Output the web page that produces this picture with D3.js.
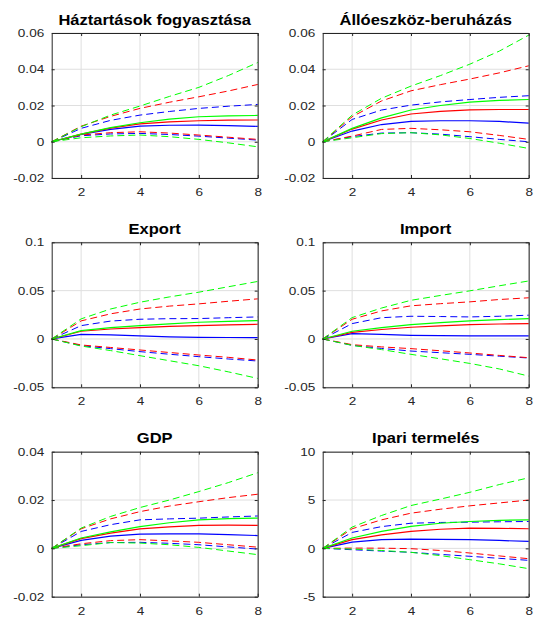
<!DOCTYPE html>
<html>
<head>
<meta charset="utf-8">
<script src="https://cdn.jsdelivr.net/npm/d3@7"></script>
<style>
  body { margin: 0; background: #fff; }
  svg { display: block; }
</style>
</head>
<body>
<div id="chart"></div>
<script>
// horizon of the impulse responses
var steps = [1, 2, 3, 4, 5, 6, 7, 8];

var titles = ["Háztartások fogyasztása", "Állóeszköz-beruházás", "Export", "Import", "GDP", "Ipari termelés"];

// y ticks per panel
var yTicks1 = [-0.02, 0, 0.02, 0.04, 0.06];
var yTicks2 = [-0.05, 0, 0.05, 0.1];
var yTicks3 = [-0.02, 0, 0.02, 0.04];
var yTicks4 = [-5, 0, 5, 10];
var xTicks = [2, 4, 6, 8];

// each colour: [lower band, median, upper band]
var haztBlue = [
  [0, .0033, .0043, .0046, .0040, .0031, .0020, .0009],
  [0, .0040, .0068, .0086, .0091, .0092, .0089, .0085],
  [0, .0074, .0118, .0147, .0167, .0184, .0196, .0206]];
var haztRed = [
  [0, .0037, .0050, .0055, .0048, .0037, .0025, .0013],
  [0, .0042, .0075, .0099, .0110, .0116, .0119, .0120],
  [0, .0086, .0140, .0184, .0218, .0248, .0280, .0316]];
var haztGreen = [
  [0, .0022, .0032, .0037, .0028, .0013, -.0006, -.0028],
  [0, .0042, .0078, .0105, .0125, .0138, .0143, .0145],
  [0, .0083, .0147, .0197, .0250, .0300, .0365, .0437]];

var alloBlue = [
  [0, .0028, .0048, .0050, .0042, .0028, .0013, .0000],
  [0, .0059, .0095, .0112, .0116, .0116, .0112, .0103],
  [0, .0123, .0175, .0202, .0220, .0233, .0245, .0254]];
var alloRed = [
  [0, .0031, .0068, .0074, .0066, .0055, .0035, .0013],
  [0, .0070, .0120, .0153, .0168, .0176, .0178, .0178],
  [0, .0138, .0225, .0281, .0315, .0346, .0380, .0419]];
var alloGreen = [
  [0, .0022, .0045, .0050, .0038, .0018, -.0008, -.0037],
  [0, .0074, .0132, .0175, .0200, .0219, .0228, .0233],
  [0, .0147, .0240, .0307, .0365, .0428, .0500, .0588]];

var exportBlue = [
  [0, -.0069, -.0100, -.0131, -.0158, -.0183, -.0207, -.0228],
  [0, .0048, .0042, .0031, .0022, .0017, .0015, .0014],
  [0, .0138, .0185, .0204, .0210, .0211, .0220, .0228]];
var exportRed = [
  [0, -.0062, -.0088, -.0114, -.0140, -.0166, -.0190, -.0218],
  [0, .0080, .0103, .0118, .0130, .0138, .0146, .0152],
  [0, .0187, .0260, .0310, .0340, .0363, .0390, .0415]];
var exportGreen = [
  [0, -.0073, -.0120, -.0173, -.0225, -.0277, -.0340, -.0408],
  [0, .0087, .0117, .0138, .0157, .0173, .0183, .0190],
  [0, .0208, .0310, .0380, .0435, .0484, .0540, .0595]];

var importBlue = [
  [0, -.0066, -.0098, -.0125, -.0142, -.0159, -.0178, -.0197],
  [0, .0055, .0048, .0038, .0034, .0031, .0031, .0031],
  [0, .0159, .0220, .0235, .0232, .0228, .0235, .0246]];
var importRed = [
  [0, -.0059, -.0082, -.0100, -.0122, -.0145, -.0170, -.0194],
  [0, .0069, .0098, .0121, .0136, .0149, .0155, .0159],
  [0, .0204, .0290, .0343, .0365, .0384, .0408, .0426]];
var importGreen = [
  [0, -.0066, -.0110, -.0159, -.0205, -.0253, -.0310, -.0384],
  [0, .0080, .0118, .0149, .0170, .0187, .0200, .0211],
  [0, .0221, .0320, .0400, .0450, .0498, .0550, .0600]];

var gdpBlue = [
  [0, .0015, .0024, .0025, .0021, .0015, .0006, -.0003],
  [0, .0033, .0051, .0059, .0060, .0060, .0057, .0053],
  [0, .0070, .0098, .0118, .0122, .0125, .0130, .0134]];
var gdpRed = [
  [0, .0019, .0032, .0036, .0031, .0025, .0015, .0005],
  [0, .0040, .0063, .0081, .0089, .0095, .0096, .0095],
  [0, .0081, .0122, .0152, .0175, .0193, .0210, .0224]];
var gdpGreen = [
  [0, .0011, .0024, .0022, .0015, .0004, -.0011, -.0026],
  [0, .0043, .0068, .0090, .0106, .0118, .0123, .0125],
  [0, .0084, .0132, .0169, .0200, .0235, .0272, .0313]];

var ipariBlue = [
  [0, -0.14, -0.28, -0.41, -0.62, -0.82, -1.03, -1.24],
  [0, 0.65, 0.90, 0.96, 0.93, 0.90, 0.82, 0.72],
  [0, 1.65, 2.25, 2.60, 2.68, 2.71, 2.75, 2.78]];
var ipariRed = [
  [0, 0.03, 0.02, -0.03, -0.22, -0.48, -0.78, -1.07],
  [0, 0.90, 1.40, 1.75, 1.98, 2.10, 2.07, 2.03],
  [0, 2.03, 2.95, 3.64, 4.05, 4.40, 4.70, 5.00]];
var ipariGreen = [
  [0, -0.07, -0.22, -0.41, -0.75, -1.17, -1.60, -2.10],
  [0, 1.07, 1.75, 2.27, 2.60, 2.78, 2.90, 2.95],
  [0, 2.20, 3.40, 4.43, 5.10, 5.80, 6.60, 7.30]];

var colors = ["#0000ff", "#ff0000", "#00ff00"];

var panels = [
  { title: titles[0], ticks: yTicks1, series: [haztBlue, haztRed, haztGreen] },
  { title: titles[1], ticks: yTicks1, series: [alloBlue, alloRed, alloGreen] },
  { title: titles[2], ticks: yTicks2, series: [exportBlue, exportRed, exportGreen] },
  { title: titles[3], ticks: yTicks2, series: [importBlue, importRed, importGreen] },
  { title: titles[4], ticks: yTicks3, series: [gdpBlue, gdpRed, gdpGreen] },
  { title: titles[5], ticks: yTicks4, series: [ipariBlue, ipariRed, ipariGreen] }
];

var W = 534, H = 623;
var colLeft = [51.7, 322.7], plotW = 206;
var rowTop = [33, 242.3, 451.7], plotH = 145;
var stretch = 1.18; // the picture's text is wider than plain Arial
var axisColor = "#262626";

var svg = d3.select("#chart").append("svg")
  .attr("width", W)
  .attr("height", H);

function fmt(d) {
  return String(+d.toFixed(4));
}

panels.forEach(function (p, i) {
  var left = colLeft[i % 2], top = rowTop[Math.floor(i / 2)];
  var g = svg.append("g").attr("transform", "translate(" + left + "," + top + ")");

  var x = d3.scaleLinear().domain([1, 8]).range([0, plotW]);
  var y = d3.scaleLinear().domain([p.ticks[0], p.ticks[p.ticks.length - 1]]).range([plotH, 0]);

  // grid
  g.append("g").selectAll("line.gx")
    .data(xTicks).enter().append("line")
    .attr("x1", d => x(d)).attr("x2", d => x(d))
    .attr("y1", 0).attr("y2", plotH)
    .attr("stroke", "#dfdfdf").attr("stroke-width", 1);
  g.append("g").selectAll("line.gy")
    .data(p.ticks).enter().append("line")
    .attr("x1", 0).attr("x2", plotW)
    .attr("y1", d => y(d)).attr("y2", d => y(d))
    .attr("stroke", "#dfdfdf").attr("stroke-width", 1);

  // lines: blue, red, green; dashed bands and solid median
  var line = d3.line()
    .x((d, j) => x(steps[j]))
    .y(d => y(d));

  p.series.forEach(function (s, c) {
    s.forEach(function (vals, k) {
      g.append("path")
        .datum(vals)
        .attr("d", line)
        .attr("fill", "none")
        .attr("stroke", colors[c])
        .attr("stroke-width", k == 1 ? 1.2 : 1)
        .attr("stroke-dasharray", k == 1 ? null : "7,4");
    });
  });

  // axes with inward ticks on all sides
  var xb = g.append("g").attr("transform", "translate(0," + plotH + ")")
    .call(d3.axisBottom(x).tickValues(xTicks).tickSizeInner(-3).tickSizeOuter(0).tickPadding(10).tickFormat(fmt));
  var yl = g.append("g")
    .call(d3.axisLeft(y).tickValues(p.ticks).tickSizeInner(-3).tickSizeOuter(0).tickPadding(7.5).tickFormat(fmt));
  g.append("g")
    .call(d3.axisTop(x).tickValues(xTicks).tickSizeInner(-3).tickSizeOuter(0).tickFormat(""));
  g.append("g").attr("transform", "translate(" + plotW + ",0)")
    .call(d3.axisRight(y).tickValues(p.ticks).tickSizeInner(-3).tickSizeOuter(0).tickFormat(""));

  g.selectAll(".domain").attr("stroke", axisColor);
  g.selectAll(".tick line").attr("stroke", axisColor);
  g.selectAll(".tick text")
    .attr("fill", axisColor)
    .style("font-family", "'Liberation Sans', Arial, sans-serif")
    .style("font-size", "11.5px");
  xb.selectAll(".tick text").attr("transform", "scale(" + stretch + ",1)");
  yl.selectAll(".tick text")
    .attr("x", -7.5 / stretch)
    .attr("transform", "scale(" + stretch + ",1)");

  // title
  g.append("text")
    .attr("transform", "translate(" + (plotW / 2) + ",-8.5) scale(" + stretch + ",1)")
    .attr("text-anchor", "middle")
    .style("font-family", "'Liberation Sans', Arial, sans-serif")
    .style("font-size", "14px")
    .style("font-weight", "bold")
    .attr("fill", "#000")
    .text(p.title);
});
</script>
</body>
</html>
